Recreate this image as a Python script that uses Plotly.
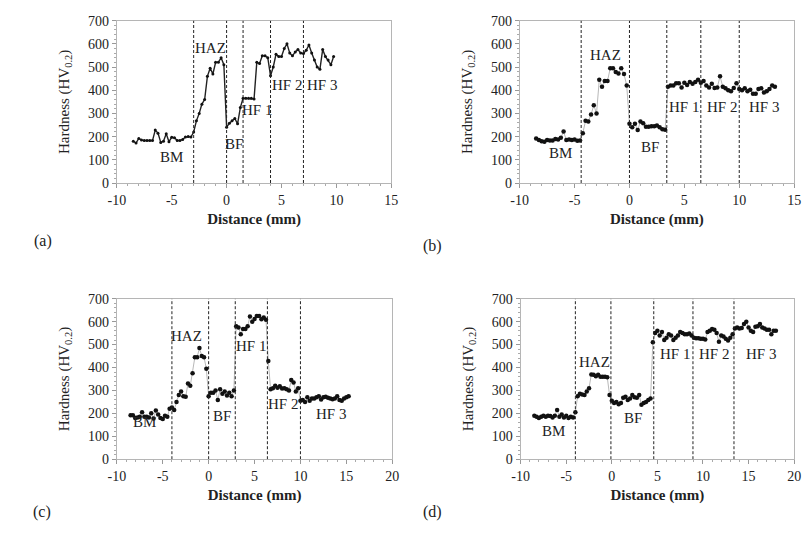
import plotly.graph_objects as go

# ---------------- data ----------------
a_x = [-8.5,-8.25,-8.0,-7.75,-7.5,-7.25,-7.0,-6.75,-6.5,-6.25,-6.0,-5.75,-5.5,-5.25,-5.0,-4.75,-4.5,-4.25,-4.0,-3.75,-3.5,-3.25,
       -3.0,-2.75,-2.5,-2.25,-2.0,-1.75,-1.5,-1.25,-1.0,-0.75,-0.5,-0.25,0.0,0.25,0.5,0.75,1.0,1.25,1.5,1.75,2.0,2.25,2.5,2.75,
       3.0,3.25,3.5,3.75,4.0,4.25,4.5,4.75,5.0,5.25,5.5,5.75,6.0,6.25,6.5,6.75,7.0,7.25,7.5,7.75,8.0,8.25,8.5,8.75,9.0,9.25,9.5,9.75]
a_y = [180,172,192,185,183,183,183,183,228,215,175,180,212,178,197,195,183,183,188,198,200,198,
       220,268,300,340,360,460,495,470,520,520,540,510,240,258,268,278,255,325,365,365,365,365,362,520,
       515,548,548,540,462,500,555,545,545,580,600,560,548,565,575,560,558,572,595,560,530,500,490,575,545,530,510,545]

b_x = [-8.5,-8.25,-8.0,-7.75,-7.5,-7.25,-7.0,-6.75,-6.5,-6.25,-6.0,-5.75,-5.5,-5.25,-5.0,-4.75,-4.5,-4.25,-4.0,-3.75,-3.5,-3.25,
       -3.0,-2.75,-2.5,-2.25,-2.0,-1.75,-1.5,-1.25,-1.0,-0.75,-0.5,-0.25,0.0,0.25,0.5,0.75,1.0,1.25,1.5,1.75,2.0,2.25,2.5,2.75,
       3.0,3.25,3.5,3.75,4.0,4.25,4.5,4.75,5.0,5.25,5.5,5.75,6.0,6.25,6.5,6.75,7.0,7.25,7.5,7.75,8.0,8.25,8.5,8.75,9.0,9.25,
       9.5,9.75,10.0,10.25,10.5,10.75,11.0,11.25,11.5,11.75,12.0,12.25,12.5,12.75,13.0,13.25]
b_y = [192,185,180,178,185,183,183,190,188,195,222,185,188,185,188,182,183,215,268,265,295,335,
       300,445,415,440,440,495,495,478,472,495,470,420,255,240,255,228,265,258,242,243,245,245,248,240,
       232,230,415,420,420,430,430,412,432,422,435,428,435,445,432,440,420,412,428,410,412,460,415,408,400,395,
       410,430,405,400,408,395,402,385,385,405,408,390,395,405,420,415]

c_x = [-8.5,-8.25,-8.0,-7.75,-7.5,-7.25,-7.0,-6.75,-6.5,-6.25,-6.0,-5.75,-5.5,-5.25,-5.0,-4.75,-4.5,-4.25,-4.0,-3.75,-3.5,-3.25,
       -3.0,-2.75,-2.5,-2.25,-2.0,-1.75,-1.5,-1.25,-1.0,-0.75,-0.5,-0.25,0.0,0.25,0.5,0.75,1.0,1.25,1.5,1.75,2.0,2.25,2.5,2.75,
       3.0,3.25,3.5,3.75,4.0,4.25,4.5,4.75,5.0,5.25,5.5,5.75,6.0,6.25,6.5,6.75,7.0,7.25,7.5,7.75,8.0,8.25,8.5,8.75,9.0,9.25,
       9.5,9.75,10.0,10.25,10.5,10.75,11.0,11.25,11.5,11.75,12.0,12.25,12.5,12.75,13.0,13.25,13.5,13.75,14.0,14.25,14.5,14.75,15.0,15.25]
c_y = [192,192,180,182,185,205,185,185,182,200,178,212,195,180,175,190,185,220,225,215,250,280,
       295,275,272,330,320,375,445,445,485,450,445,395,275,290,290,300,258,305,285,295,278,290,275,300,
       580,575,545,568,568,580,622,600,612,625,625,610,618,608,428,305,310,320,312,318,308,310,305,300,345,335,
       295,310,255,258,250,270,255,265,265,270,275,260,270,272,268,265,262,265,275,258,255,265,270,275]

d_x = [-8.5,-8.25,-8.0,-7.75,-7.5,-7.25,-7.0,-6.75,-6.5,-6.25,-6.0,-5.75,-5.5,-5.25,-5.0,-4.75,-4.5,-4.25,-4.0,-3.75,-3.5,-3.25,
       -3.0,-2.75,-2.5,-2.25,-2.0,-1.75,-1.5,-1.25,-1.0,-0.75,-0.5,-0.25,0.0,0.25,0.5,0.75,1.0,1.25,1.5,1.75,2.0,2.25,2.5,2.75,
       3.0,3.25,3.5,3.75,4.0,4.25,4.5,4.75,5.0,5.25,5.5,5.75,6.0,6.25,6.5,6.75,7.0,7.25,7.5,7.75,8.0,8.25,8.5,8.75,9.0,9.25,
       9.5,9.75,10.0,10.25,10.5,10.75,11.0,11.25,11.5,11.75,12.0,12.25,12.5,12.75,13.0,13.25,13.5,13.75,14.0,14.25,14.5,14.75,
       15.0,15.25,15.5,15.75,16.0,16.25,16.5,16.75,17.0,17.25,17.5,17.75,18.0]
d_y = [190,185,180,185,190,185,190,188,182,190,215,185,195,182,190,180,185,182,205,275,285,282,
       280,295,310,370,368,362,368,360,360,360,358,280,255,245,250,240,245,268,272,258,265,280,270,268,
       280,238,245,250,258,265,510,550,560,540,555,520,530,545,540,520,530,540,555,550,545,545,548,540,530,528,
       528,525,525,522,555,560,568,565,550,512,540,535,525,518,530,545,570,575,570,572,590,600,
       575,560,555,578,580,590,575,570,565,565,545,560,560]

# zone boundaries (mm)
a_bounds = [-3.0, 0.0, 1.5, 4.0, 7.0]
b_bounds = [-4.4, 0.0, 3.4, 6.5, 10.0]
c_bounds = [-4.0, 0.0, 2.9, 6.4, 10.0]
d_bounds = [-4.0, -0.1, 4.6, 8.9, 13.4]

zone_names = ["BM", "HAZ", "BF", "HF 1", "HF 2", "HF 3"]
a_lab_x = [-5.0, -1.5, 0.7, 2.8, 5.5, 8.7]
a_lab_y = [113, 584, 169, 314, 423, 423]
b_lab_x = [-6.3, -2.2, 1.9, 5.0, 8.4, 12.3]
b_lab_y = [130, 552, 155, 328, 328, 328]
c_lab_x = [-7.0, -2.4, 1.5, 4.6, 8.1, 13.3]
c_lab_y = [162, 536, 188, 494, 240, 198]
d_lab_x = [-6.4, -1.9, 2.3, 6.9, 11.2, 16.4]
d_lab_y = [124, 423, 179, 459, 459, 459]

x_ticks_15 = [-10, -5, 0, 5, 10, 15]
x_ticks_20 = [-10, -5, 0, 5, 10, 15, 20]
y_ticks = [0, 100, 200, 300, 400, 500, 600, 700]

panel_tags = ["(a)", "(b)", "(c)", "(d)"]

# ---------------- layout ----------------
W, H = 808, 545
FONT = "Liberation Serif"

panels = [
    dict(x=a_x, y=a_y, bounds=a_bounds, lx=a_lab_x, ly=a_lab_y, xt=x_ticks_15, xd=(110, 390), yd=(14, 181), style="line", tagpos=(23, 241)),
    dict(x=b_x, y=b_y, bounds=b_bounds, lx=b_lab_x, ly=b_lab_y, xt=x_ticks_15, xd=(521, 801), yd=(14, 181), style="dots", tagpos=(432, 246)),
    dict(x=c_x, y=c_y, bounds=c_bounds, lx=c_lab_x, ly=c_lab_y, xt=x_ticks_20, xd=(110, 391), yd=(300, 465), style="dots", tagpos=(22, 531)),
    dict(x=d_x, y=d_y, bounds=d_bounds, lx=d_lab_x, ly=d_lab_y, xt=x_ticks_20, xd=(522, 801), yd=(300, 465), style="dots", tagpos=(432, 531)),
]

fig = go.Figure()
layout = dict(width=W, height=H, margin=dict(l=0, r=0, t=0, b=0),
              paper_bgcolor="white", plot_bgcolor="white", showlegend=False,
              font=dict(family=FONT, size=13, color="#222"))
shapes, annotations = [], []

for i, p in enumerate(panels):
    n = "" if i == 0 else str(i + 1)
    xa, ya = "x" + n, "y" + n
    if p["style"] == "line":
        fig.add_trace(go.Scatter(x=p["x"], y=p["y"], xaxis=xa, yaxis=ya, mode="lines+markers",
                                 line=dict(color="#222", width=1.4), marker=dict(color="#111", size=3)))
    else:
        fig.add_trace(go.Scatter(x=p["x"], y=p["y"], xaxis=xa, yaxis=ya, mode="lines+markers",
                                 line=dict(color="#b8b8b8", width=1), marker=dict(color="#111", size=4.5)))
    axcommon = dict(showgrid=False, zeroline=False, showline=True, mirror=True, linecolor="#b5b5b5", linewidth=1,
                    ticks="outside", ticklen=4, tickcolor="#999", tickfont=dict(size=14, family=FONT, color="#222"))
    xt = p["xt"]
    layout["xaxis" + n] = dict(axcommon, domain=[p["xd"][0] / W, p["xd"][1] / W], anchor=ya,
                               range=[xt[0], xt[-1]], tickmode="array", tickvals=xt, ticktext=[str(v) for v in xt],
                               minor=dict(dtick=1, ticks="outside", ticklen=2, tickcolor="#aaa"),
                               title=dict(text="<b>Distance (mm)</b>", font=dict(size=15, family=FONT), standoff=6))
    layout["yaxis" + n] = dict(axcommon, domain=[1 - p["yd"][1] / H, 1 - p["yd"][0] / H], anchor=xa,
                               range=[y_ticks[0], y_ticks[-1]], tickmode="array", tickvals=y_ticks,
                               ticktext=[str(v) for v in y_ticks],
                               minor=dict(dtick=20, ticks="outside", ticklen=2, tickcolor="#aaa"),
                               title=dict(text="Hardness (HV<sub>0.2</sub>)", font=dict(size=15, family=FONT), standoff=14))
    for b in p["bounds"]:
        shapes.append(dict(type="line", xref=xa, yref=ya, x0=b, x1=b, y0=y_ticks[0], y1=y_ticks[-1],
                           line=dict(color="#222", width=1, dash="3px,2px")))
    for name, lx, ly in zip(zone_names, p["lx"], p["ly"]):
        annotations.append(dict(xref=xa, yref=ya, x=lx, y=ly, text=name, showarrow=False,
                                font=dict(size=15, family=FONT, color="#222")))
    annotations.append(dict(xref="paper", yref="paper", x=p["tagpos"][0] / W, y=1 - p["tagpos"][1] / H,
                            text=panel_tags[i], showarrow=False, font=dict(size=16, family=FONT, color="#222")))

layout["shapes"] = shapes
layout["annotations"] = annotations
fig.update_layout(**layout)
fig.write_html("out.html")
